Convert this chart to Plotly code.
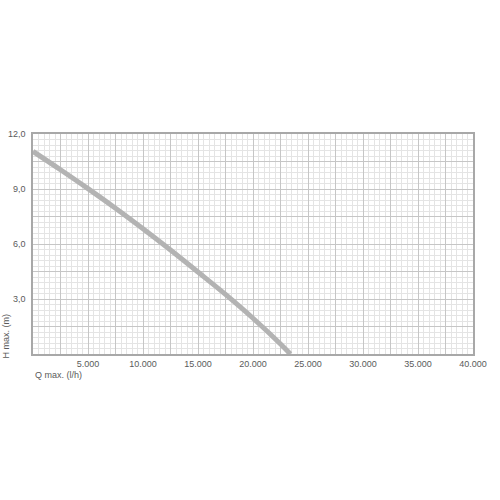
import plotly.graph_objects as go

# pump curve
q_flow = [0, 2500, 5000, 7500, 10000, 12500, 15000, 17500, 20000, 22500, 23400]
h_head = [11.05, 10.05, 9.02, 7.95, 6.83, 5.67, 4.47, 3.25, 1.95, 0.55, 0]

x_ticks = [2500 * i for i in range(1, 17)]
x_labels = ['{:,}'.format(v).replace(',', '.') if v % 5000 == 0 else '' for v in x_ticks]
y_ticks = [1.5 * i for i in range(1, 9)]
y_labels = [('%.1f' % v).replace('.', ',') if v % 3 == 0 else '' for v in y_ticks]

fig = go.Figure()
fig.add_trace(go.Scatter(
    x=q_flow,
    y=h_head,
    mode='lines',
    line=dict(color='#b3b3b3', width=5, shape='spline'),
    showlegend=False,
))

font = dict(family='Liberation Sans, Arial, sans-serif', size=9, color='#5a5a5a')

fig.update_xaxes(
    range=[0, 40000],
    tickvals=x_ticks,
    ticktext=x_labels,
    tickfont=font,
    ticks='',
    automargin=False,
    showgrid=True,
    gridcolor='#c6c6c6',
    gridwidth=1,
    minor=dict(dtick=500, showgrid=True, gridcolor='#e4e4e4', gridwidth=1),
    showline=True,
    linecolor='#a8a8a8',
    linewidth=1.5,
    mirror=True,
    zeroline=False,
)
fig.update_yaxes(
    range=[0, 12],
    tickvals=y_ticks,
    ticktext=y_labels,
    tickfont=font,
    ticks='',
    ticklabelstandoff=4,
    automargin=False,
    showgrid=True,
    gridcolor='#c6c6c6',
    gridwidth=1,
    minor=dict(dtick=0.3, showgrid=True, gridcolor='#e4e4e4', gridwidth=1),
    showline=True,
    linecolor='#a8a8a8',
    linewidth=1.5,
    mirror=True,
    zeroline=False,
)

fig.add_annotation(
    text='H max. (m)', xref='paper', yref='paper', x=-0.061, y=0.08,
    textangle=-90, showarrow=False, font=font, xanchor='center', yanchor='middle',
)
fig.add_annotation(
    text='Q max. (l/h)', xref='paper', yref='paper', x=0, y=-0.095,
    showarrow=False, font=font, xanchor='left', yanchor='middle',
)

fig.update_layout(
    width=500,
    height=500,
    margin=dict(l=33, r=27, t=134, b=146),
    plot_bgcolor='white',
    paper_bgcolor='white',
)

# drop the default page margin so the figure sits at the window's corner
fig.write_html(
    'out.html',
    config={'displayModeBar': False},
    post_script="document.body.style.margin='0';",
)
